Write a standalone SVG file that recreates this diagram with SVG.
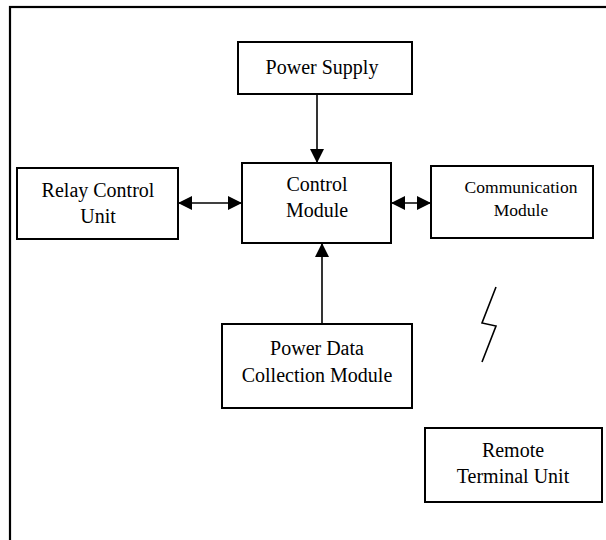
<svg xmlns="http://www.w3.org/2000/svg" width="606" height="540" viewBox="0 0 606 540">
<style>
.box{fill:#fff;stroke:#000;stroke-width:2}
text{font-family:'Liberation Serif','Times New Roman',serif;font-size:20px;fill:#000;text-anchor:middle}
.s{font-size:17.5px}
.c{stroke:#000;stroke-width:1.6;fill:none}
</style>
<defs>
<marker id="ah" markerWidth="14" markerHeight="14" viewBox="0 0 14 14" refX="13" refY="7" orient="auto-start-reverse" markerUnits="userSpaceOnUse">
<path d="M0,0 L14,7 L0,14 Z" fill="#000"/>
</marker>
</defs>
<rect x="10" y="7" width="620" height="560" fill="none" stroke="#000" stroke-width="2.2"/>
<g id="power-supply">
<rect class="box" x="238" y="42" width="174" height="52"/>
<text x="322" y="74" font-size="21">Power Supply</text>
</g>
<g id="control-module">
<rect class="box" x="242" y="163" width="149" height="80"/>
<text x="317" y="191">Control</text>
<text x="317" y="217">Module</text>
</g>
<g id="relay-control-unit">
<rect class="box" x="17" y="168" width="161" height="71"/>
<text x="98" y="197">Relay Control</text>
<text x="98" y="223">Unit</text>
</g>
<g id="communication-module">
<rect class="box" x="431" y="166" width="162" height="72"/>
<text class="s" x="521" y="193">Communication</text>
<text class="s" x="521" y="216">Module</text>
</g>
<g id="power-data-collection-module">
<rect class="box" x="222" y="324" width="190" height="84"/>
<text x="317" y="355">Power Data</text>
<text x="317" y="382">Collection Module</text>
</g>
<g id="remote-terminal-unit">
<rect class="box" x="425" y="428" width="177" height="74"/>
<text x="513" y="457">Remote</text>
<text x="513" y="483">Terminal Unit</text>
</g>
<g id="connectors">
<line class="c" x1="317" y1="94" x2="317" y2="162" marker-end="url(#ah)"/>
<line class="c" x1="179" y1="203" x2="241" y2="203" marker-start="url(#ah)" marker-end="url(#ah)"/>
<line class="c" x1="392" y1="203" x2="430" y2="203" marker-start="url(#ah)" marker-end="url(#ah)"/>
<line class="c" x1="322" y1="323" x2="322" y2="244" marker-end="url(#ah)"/>
<polyline class="c" points="496,287 482,323 496,326 482,362" stroke-width="2"/>
</g>
</svg>
